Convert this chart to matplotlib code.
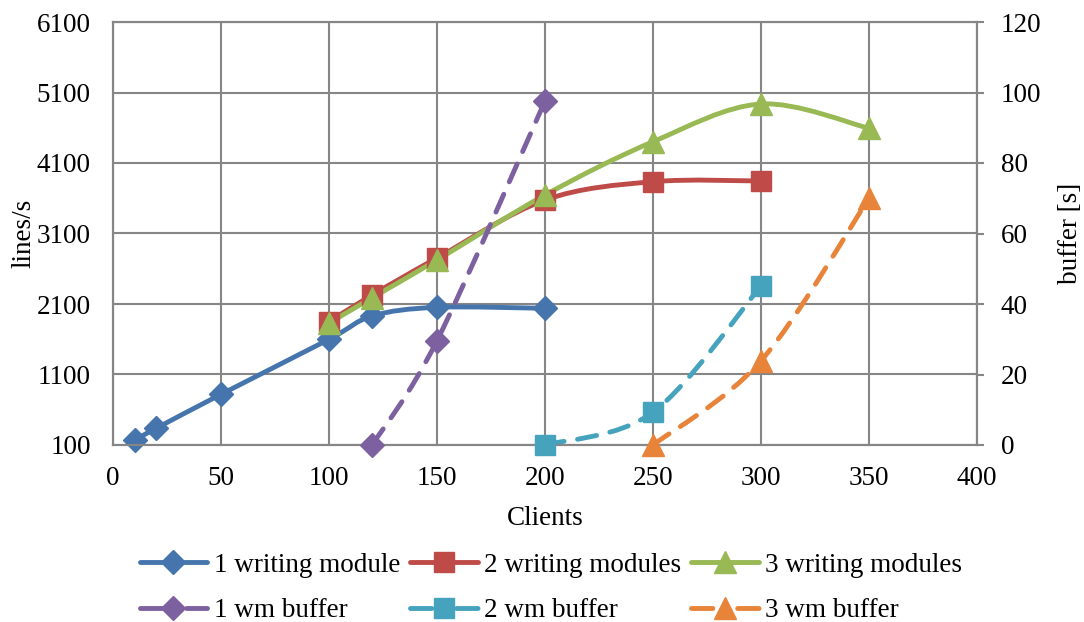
import numpy as np
import matplotlib
matplotlib.use("Agg")
import matplotlib.pyplot as plt
from matplotlib.path import Path
from matplotlib.patches import PathPatch
from matplotlib.lines import Line2D

plt.rcParams['font.family'] = ['Liberation Serif', 'DejaVu Serif']
plt.rcParams['font.size'] = 19.5

# throughput (lines/s), left axis
x_wm1 = [10, 20, 50, 100, 120, 150, 200]
y_wm1 = [171, 337, 819, 1599, 1930, 2053, 2039]
x_wm2 = [100, 120, 150, 200, 250, 300]
y_wm2 = [1849, 2228, 2752, 3575, 3835, 3845]
x_wm3 = [100, 120, 150, 200, 250, 300, 350]
y_wm3 = [1830, 2189, 2724, 3646, 4402, 4937, 4592]

# buffer [s], right axis
x_buf1 = [120, 150, 200]
y_buf1 = [0, 29.6, 97.6]
x_buf2 = [200, 250, 300]
y_buf2 = [0, 9.3, 45.1]
x_buf3 = [250, 300, 350]
y_buf3 = [0, 23.9, 70]

labels = ["1 writing module", "2 writing modules", "3 writing modules",
          "1 wm buffer", "2 wm buffer", "3 wm buffer"]

c_blue, c_red, c_green = '#4675AE', '#BE4B48', '#98B954'
c_purple, c_aqua, c_orange = '#7D60A0', '#46A3BE', '#E8843A'
grid_c = '#868686'


def smooth_path(xs, ys):
    # excel-like smoothed line: cubic bezier through the points
    p = np.column_stack([xs, ys]).astype(float)
    n = len(p)
    verts = [p[0]]
    codes = [Path.MOVETO]
    for i in range(n - 1):
        p0 = p[i - 1] if i > 0 else p[i]
        p3 = p[i + 2] if i + 2 < n else p[i + 1]
        c1 = p[i] + (p[i + 1] - p0) / 6
        c2 = p[i + 1] - (p3 - p[i]) / 6
        verts += [c1, c2, p[i + 1]]
        codes += [Path.CURVE4] * 3
    return Path(verts, codes)


def draw(ax, xs, ys, color, marker, ms, dashed=False):
    ls = (0, (4, 2.8)) if dashed else '-'
    patch = PathPatch(smooth_path(xs, ys), facecolor='none', edgecolor=color,
                      lw=3.5, linestyle=ls, capstyle='round', joinstyle='round')
    ax.add_patch(patch)
    ax.plot(xs, ys, linestyle='none', marker=marker, ms=ms, color=color,
            markeredgecolor=color, zorder=5, clip_on=False)
    # legend proxy: short dash - marker - short dash for the buffer series
    leg_ls = (0, (4.4, 5.1)) if dashed else '-'
    return Line2D([], [], color=color, lw=3.5, linestyle=leg_ls, marker=marker,
                  ms=ms, dash_capstyle='round', solid_capstyle='round')


fig = plt.figure(figsize=(10.84, 6.22), dpi=100)
ax = fig.add_axes([113 / 1084, 1 - 445 / 622, 864 / 1084, 423 / 622])
ax2 = ax.twinx()

h1 = draw(ax, x_wm1, y_wm1, c_blue, 'D', 12.5)
h2 = draw(ax, x_wm2, y_wm2, c_red, 's', 14)
h3 = draw(ax, x_wm3, y_wm3, c_green, '^', 15.5)
h4 = draw(ax2, x_buf1, y_buf1, c_purple, 'D', 12.5, dashed=True)
h5 = draw(ax2, x_buf2, y_buf2, c_aqua, 's', 14, dashed=True)
h6 = draw(ax2, x_buf3, y_buf3, c_orange, '^', 15.5, dashed=True)

ax.set_xlim(0, 400)
ax.set_ylim(100, 6100)
ax.set_xticks(np.arange(0, 401, 50))
ax.set_yticks(np.arange(100, 6101, 1000))
ax2.set_ylim(0, 120)
ax2.set_yticks(np.arange(0, 121, 20))

ax.grid(True, color=grid_c, lw=1.5)
ax.set_axisbelow(True)
for a in (ax, ax2):
    for s in a.spines.values():
        s.set_color(grid_c)
        s.set_linewidth(1.5)
ax.tick_params(axis='x', length=0, pad=15)
ax.tick_params(axis='y', length=0, pad=16)
ax2.tick_params(axis='y', length=5, width=1.5, color=grid_c, pad=12)

ax.set_xlabel("Clients", labelpad=11)
ax.set_ylabel("lines/s", labelpad=0)
ax2.set_ylabel("buffer [s]", labelpad=12)

handles = [h1, h4, h2, h5, h3, h6]
labs = [labels[0], labels[3], labels[1], labels[4], labels[2], labels[5]]
fig.legend(handles, labs, ncol=3, loc='center',
           bbox_to_anchor=(551 / 1084, 1 - 588 / 622), frameon=False,
           handlelength=2.5, handletextpad=0.25, columnspacing=0.35,
           labelspacing=0.75)

fig.savefig("out.png", dpi=100)
